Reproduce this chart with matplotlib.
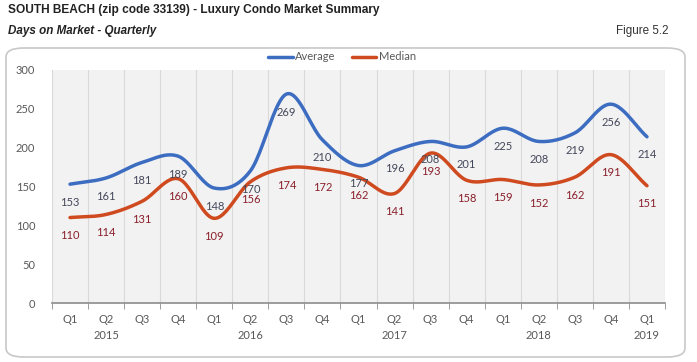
import numpy as np
import matplotlib.pyplot as plt
from matplotlib.patches import FancyBboxPatch

# *** Data ***#
quarters = ["Q1", "Q2", "Q3", "Q4", "Q1", "Q2", "Q3", "Q4", "Q1",
            "Q2", "Q3", "Q4", "Q1", "Q2", "Q3", "Q4", "Q1"]
years = ["2015", "2016", "2017", "2018", "2019"]
year_pos = [1, 5, 9, 13, 16]
average = [153, 161, 181, 189, 148, 170, 269, 210, 177,
           196, 208, 201, 225, 208, 219, 256, 214]
median = [110, 114, 131, 160, 109, 156, 174, 172, 162,
          141, 193, 158, 159, 152, 162, 191, 151]

blue = "#3c6dc1"
red = "#cf4a1f"


def smooth(x, y, n=24):
    """Catmull-Rom curve through the points (like Excel smoothed lines)."""
    x = np.asarray(x, float)
    y = np.asarray(y, float)
    px = np.concatenate([[2 * x[0] - x[1]], x, [2 * x[-1] - x[-2]]])
    py = np.concatenate([[2 * y[0] - y[1]], y, [2 * y[-1] - y[-2]]])
    xs, ys = [], []
    t = np.linspace(0, 1, n, endpoint=False)
    for i in range(1, len(px) - 2):
        for p, out in ((px, xs), (py, ys)):
            p0, p1, p2, p3 = p[i - 1], p[i], p[i + 1], p[i + 2]
            out.extend(0.5 * (2 * p1 + (-p0 + p2) * t
                              + (2 * p0 - 5 * p1 + 4 * p2 - p3) * t ** 2
                              + (-p0 + 3 * p1 - 3 * p2 + p3) * t ** 3))
    xs.append(x[-1])
    ys.append(y[-1])
    return np.array(xs), np.array(ys)


fig = plt.figure(figsize=(6.97, 3.62), dpi=100)

# rounded frame around chart
frame = FancyBboxPatch((6 / 697, 5 / 362), 679 / 697, 309 / 362,
                       boxstyle="round,pad=0,rounding_size=0.025",
                       transform=fig.transFigure, facecolor="white",
                       edgecolor="#c8c8c8", linewidth=1.2, zorder=-5)
fig.patches.append(frame)

fig.text(8 / 697, 1 - 10 / 362, "SOUTH BEACH (zip code 33139) - Luxury Condo Market Summary",
         family="Liberation Sans", weight="bold",
         fontsize=8.6, va="center", ha="left", color="#222222")
fig.text(8 / 697, 1 - 31 / 362, "Days on Market - Quarterly",
         family="Liberation Sans", weight="bold",
         style="italic", fontsize=8.4, va="center", ha="left", color="#222222")
fig.text(668 / 697, 1 - 31 / 362, "Figure 5.2",
         family="Liberation Sans",
         fontsize=8.4, va="center", ha="right", color="#333333")

ax = fig.add_axes([52 / 697, 59 / 362, 613 / 697, 233 / 362])
ax.set_facecolor("#f2f2f2")

x = np.arange(len(quarters))
sx, sy = smooth(x, average)
ax.plot(sx, sy, color=blue, lw=2.5, label="Average", solid_capstyle="round")
sx, sy = smooth(x, median)
ax.plot(sx, sy, color=red, lw=2.5, label="Median", solid_capstyle="round")

for i in x:
    ax.annotate(str(average[i]), (i, average[i]), xytext=(0, -13),
                textcoords="offset points", ha="center", va="center",
                fontsize=8, color="#44475a", family="Lato")
    ax.annotate(str(median[i]), (i, median[i]), xytext=(0, -13),
                textcoords="offset points", ha="center", va="center",
                fontsize=8, color="#8a1f2a", family="Lato")

ax.set_xlim(-0.5, len(quarters) - 0.5)
ax.set_ylim(0, 300)
ax.set_yticks(range(0, 301, 50))
ax.set_xticks(x)
ax.set_xticklabels(quarters)
ax.set_xticks(np.arange(-0.5, len(quarters), 1), minor=True)
ax.grid(True, which="minor", axis="x", color="#d9d9d9", lw=0.8)
ax.set_axisbelow(True)
ax.tick_params(axis="x", which="major", length=0, pad=8, labelsize=8, labelcolor="#595959")
ax.tick_params(axis="x", which="minor", length=4, color="#8c8c8c", direction="out")
ax.tick_params(axis="y", length=0, pad=12, labelsize=8, labelcolor="#595959")
for lab in ax.get_xticklabels() + ax.get_yticklabels():
    lab.set_family("Lato")
for side in ("top", "right", "left"):
    ax.spines[side].set_visible(False)
ax.spines["bottom"].set_color("#8c8c8c")
ax.spines["bottom"].set_linewidth(1.2)

for pos, yr in zip(year_pos, years):
    ax.text(pos, -0.14, yr, transform=ax.get_xaxis_transform(), ha="center",
            va="center", fontsize=8, color="#595959", family="Lato")

fig.legend(loc="center", bbox_to_anchor=(342 / 697, 1 - 57 / 362), ncol=2,
           frameon=False, handlelength=2.2, handletextpad=0.2,
           columnspacing=1.5, prop={"family": "Lato", "size": 8})
for t in fig.legends[0].get_texts():
    t.set_color("#595959")

fig.savefig("out.png", dpi=100)
